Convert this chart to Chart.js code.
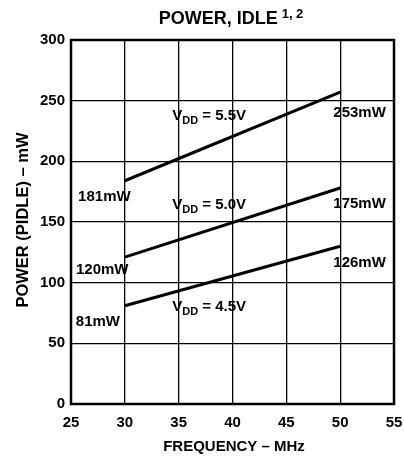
<!DOCTYPE html>
<html><head><meta charset="utf-8">
<script src="https://cdn.jsdelivr.net/npm/chart.js@4"></script>
<style>html,body{margin:0;padding:0;background:#fff;}canvas{display:block}</style>
</head><body>
<canvas id="c" width="404" height="456" style="width:404px;height:456px"></canvas>
<script>
// ---- data ----
const frequencies = [30, 50];
const vdd55 = [184, 257];
const vdd50 = [121, 178];
const vdd45 = [81, 130];
const seriesVoltages = ['5.5V', '5.0V', '4.5V'];
const startLabels = ['181mW', '120mW', '81mW'];
const endLabels = ['253mW', '175mW', '126mW'];
const xTickValues = [25, 30, 35, 40, 45, 50, 55];
const yTickValues = [0, 50, 100, 150, 200, 250, 300];
const titleText = 'POWER, IDLE';
const titleSup = '1, 2';
const xTitle = 'FREQUENCY \u2013 MHz';
const yTitle = 'POWER (PIDLE) \u2013 mW';

// ---- layout of annotations (data coords) ----
const FONT = '"Liberation Sans", Arial, Helvetica, sans-serif';
const startPos = [[28.1, 170.5], [27.9, 110.5], [27.5, 67.5]];
const endPos = [[51.8, 240], [51.8, 165], [51.8, 116]];
const vddPos = [[34.4, 237.5], [34.4, 164], [34.4, 80]];

function pts(ys) { return frequencies.map((x, i) => ({ x: x, y: ys[i] })); }
const lineStyle = { borderColor: '#000', borderWidth: 3, pointRadius: 0, tension: 0, fill: false };

const deco = {
  id: 'deco',
  afterDraw(chart) {
    const ctx = chart.ctx, a = chart.chartArea;
    const xs = chart.scales.x, ys = chart.scales.y;
    ctx.save();
    // frame
    ctx.strokeStyle = '#000'; ctx.lineWidth = 2.5;
    ctx.strokeRect(a.left, a.top, a.right - a.left, a.bottom - a.top);
    ctx.fillStyle = '#000';
    // title
    ctx.font = 'bold 18px ' + FONT;
    ctx.textBaseline = 'middle';
    const tw = ctx.measureText(titleText).width;
    ctx.font = 'bold 13px ' + FONT;
    const sw = ctx.measureText(titleSup).width;
    const total = tw + 4 + sw;
    const tx = 231 - total / 2;
    ctx.font = 'bold 18px ' + FONT; ctx.textAlign = 'left';
    ctx.fillText(titleText, tx, 19);
    ctx.font = 'bold 13px ' + FONT;
    ctx.fillText(titleSup, tx + tw + 4, 14);
    // axis titles
    ctx.font = 'bold 15px ' + FONT; ctx.textAlign = 'center';
    ctx.fillText(xTitle, 234, 447);
    ctx.save();
    ctx.translate(23, 220); ctx.rotate(-Math.PI / 2);
    ctx.font = 'bold 16.5px ' + FONT;
    ctx.fillText(yTitle, 0, 0);
    ctx.restore();
    // value labels
    ctx.font = 'bold 15px ' + FONT; ctx.textAlign = 'center';
    startLabels.forEach((t, i) => ctx.fillText(t, xs.getPixelForValue(startPos[i][0]), ys.getPixelForValue(startPos[i][1])));
    endLabels.forEach((t, i) => ctx.fillText(t, xs.getPixelForValue(endPos[i][0]), ys.getPixelForValue(endPos[i][1])));
    // VDD labels
    seriesVoltages.forEach((v, i) => {
      let x = xs.getPixelForValue(vddPos[i][0]);
      const y = ys.getPixelForValue(vddPos[i][1]);
      ctx.textAlign = 'left';
      ctx.font = 'bold 15px ' + FONT;
      ctx.fillText('V', x, y); x += ctx.measureText('V').width;
      ctx.font = 'bold 11px ' + FONT;
      ctx.fillText('DD', x, y + 5); x += ctx.measureText('DD').width;
      ctx.font = 'bold 15px ' + FONT;
      ctx.fillText(' = ' + v, x, y);
    });
    ctx.restore();
  }
};

new Chart(document.getElementById('c'), {
  type: 'line',
  data: {
    datasets: [
      Object.assign({ label: 'VDD = ' + seriesVoltages[0], data: pts(vdd55) }, lineStyle),
      Object.assign({ label: 'VDD = ' + seriesVoltages[1], data: pts(vdd50) }, lineStyle),
      Object.assign({ label: 'VDD = ' + seriesVoltages[2], data: pts(vdd45) }, lineStyle)
    ]
  },
  options: {
    responsive: false,
    animation: false,
    devicePixelRatio: 1,
    layout: { padding: { top: 40, right: 10, left: 0, bottom: 0 } },
    plugins: { legend: { display: false }, tooltip: { enabled: false }, title: { display: false } },
    scales: {
      x: {
        type: 'linear', min: xTickValues[0], max: xTickValues[xTickValues.length - 1],
        afterBuildTicks: s => { s.ticks = xTickValues.map(v => ({ value: v })); },
        afterFit: s => { s.height = 52; s.paddingLeft = 0; s.paddingRight = 0; },
        grid: { color: '#000', lineWidth: 1.3, drawTicks: false },
        border: { display: false },
        ticks: { color: '#000', padding: 10, maxRotation: 0, font: { family: FONT, size: 15, weight: 'bold' } }
      },
      y: {
        type: 'linear', min: yTickValues[0], max: yTickValues[yTickValues.length - 1],
        afterBuildTicks: s => { s.ticks = yTickValues.map(v => ({ value: v })); },
        afterFit: s => { s.width = 71; s.paddingTop = 0; s.paddingBottom = 0; },
        grid: { color: '#000', lineWidth: 1.3, drawTicks: false },
        border: { display: false },
        ticks: { color: '#000', padding: 6, font: { family: FONT, size: 15, weight: 'bold' } }
      }
    }
  },
  plugins: [deco]
});
</script>
</body></html>
